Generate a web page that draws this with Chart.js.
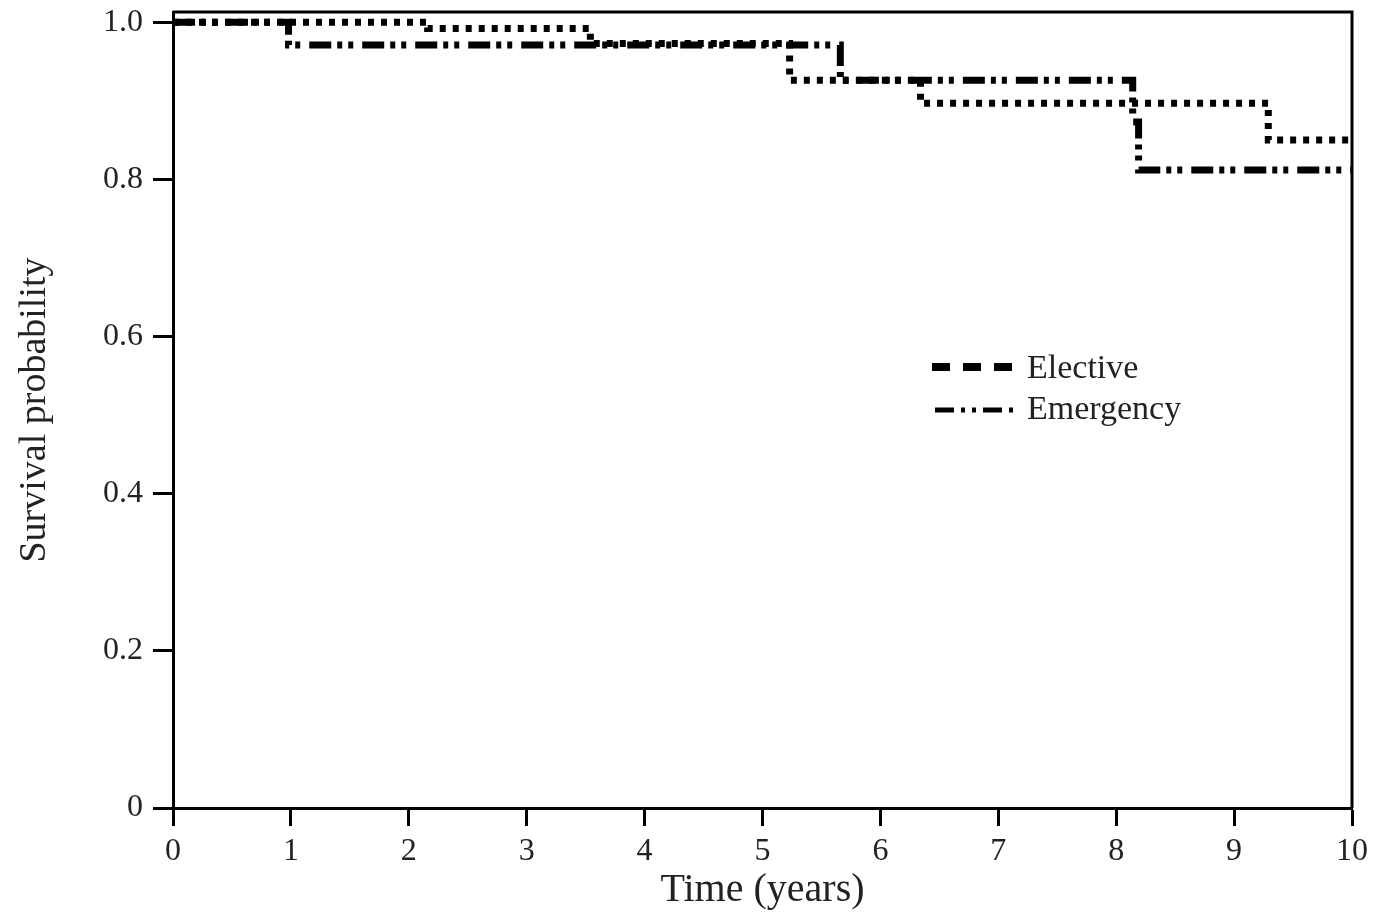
<!DOCTYPE html>
<html>
<head>
<meta charset="utf-8">
<script src="https://cdn.jsdelivr.net/npm/chart.js@4/dist/chart.umd.min.js"></script>
<style>
  html, body { margin: 0; padding: 0; background: #fff; }
  #wrap { width: 1375px; height: 914px; }
</style>
</head>
<body>
<div id="wrap"><canvas id="km"></canvas></div>
<script>
// 生存曲線のデータ
const electiveTime = [0, 2.16, 3.54, 5.23, 6.34, 9.29, 10];
const electiveSurv = [1.0, 0.992, 0.973, 0.926, 0.897, 0.850, 0.850];
const emergencyTime = [0, 0.98, 5.66, 8.14, 8.19, 10];
const emergencySurv = [1.0, 0.971, 0.926, 0.873, 0.812, 0.812];

// 軸の目盛り
const xTicks = [0, 1, 2, 3, 4, 5, 6, 7, 8, 9, 10];
const yTicks = [0, 0.2, 0.4, 0.6, 0.8, 1.0];

const serif = '"Liberation Serif", "Times New Roman", serif';

function toPoints(ts, ss) {
  return ts.map((t, i) => ({ x: t, y: ss[i] }));
}

// 枠線と凡例を描くプラグイン
const framePlugin = {
  id: 'frame',
  afterDatasetsDraw(chart) {
    const { ctx, chartArea: a } = chart;
    ctx.save();
    ctx.strokeStyle = '#000';
    ctx.lineWidth = 3;
    ctx.beginPath();
    ctx.moveTo(a.left, a.top);
    ctx.lineTo(a.right, a.top);
    ctx.lineTo(a.right, a.bottom);
    ctx.stroke();
    ctx.restore();
  },
  afterDraw(chart) {
    const ctx = chart.ctx;
    ctx.save();
    ctx.strokeStyle = '#000';
    ctx.lineCap = 'butt';
    // Elective
    ctx.lineWidth = 8;
    ctx.setLineDash([18, 13]);
    ctx.beginPath();
    ctx.moveTo(932, 367);
    ctx.lineTo(1012, 367);
    ctx.stroke();
    // Emergency
    ctx.lineWidth = 5;
    ctx.setLineDash([19, 7, 4, 7, 4, 7]);
    ctx.beginPath();
    ctx.moveTo(935, 410);
    ctx.lineTo(1015, 410);
    ctx.stroke();
    ctx.setLineDash([]);
    ctx.fillStyle = '#222';
    ctx.font = '34px ' + serif;
    ctx.textBaseline = 'middle';
    ctx.fillText('Elective', 1027, 369);
    ctx.fillText('Emergency', 1027, 410);
    ctx.restore();
  }
};

new Chart(document.getElementById('km'), {
  type: 'line',
  data: {
    datasets: [
      {
        label: 'Elective',
        data: toPoints(electiveTime, electiveSurv),
        stepped: 'before',
        borderColor: '#000',
        borderWidth: 7,
        borderDash: [6, 7],
        borderCapStyle: 'butt',
        pointRadius: 0,
        fill: false
      },
      {
        label: 'Emergency',
        data: toPoints(emergencyTime, emergencySurv),
        stepped: 'before',
        borderColor: '#000',
        borderWidth: 7,
        borderDash: [22, 6, 5, 6, 5, 9],
        borderCapStyle: 'butt',
        pointRadius: 0,
        fill: false
      }
    ]
  },
  options: {
    responsive: true,
    maintainAspectRatio: false,
    animation: false,
    layout: { padding: { top: 12, right: 23, left: 0, bottom: 0 } },
    plugins: {
      legend: { display: false },
      tooltip: { enabled: false }
    },
    scales: {
      x: {
        type: 'linear',
        min: 0,
        max: 10,
        afterFit(scale) {
          scale.height = 106;
          scale.paddingLeft = 0;
          scale.paddingRight = 0;
        },
        afterBuildTicks(scale) { scale.ticks = xTicks.map(v => ({ value: v })); },
        grid: {
          display: true,
          drawOnChartArea: false,
          drawTicks: true,
          tickLength: 18,
          tickWidth: 3,
          tickColor: '#000'
        },
        border: { display: true, width: 3, color: '#000' },
        ticks: {
          color: '#222',
          padding: 6,
          maxRotation: 0,
          font: { family: serif, size: 32 },
          callback: v => String(v)
        },
        title: {
          display: true,
          text: 'Time (years)',
          color: '#222',
          font: { family: serif, size: 40 },
          padding: { top: 0, bottom: 0 }
        }
      },
      y: {
        type: 'linear',
        min: 0,
        max: 1.013,
        afterFit(scale) {
          scale.width = 173;
          scale.paddingTop = 0;
          scale.paddingBottom = 0;
        },
        afterBuildTicks(scale) { scale.ticks = yTicks.map(v => ({ value: v })); },
        grid: {
          display: true,
          drawOnChartArea: false,
          drawTicks: true,
          tickLength: 20,
          tickWidth: 3,
          tickColor: '#000'
        },
        border: { display: true, width: 3, color: '#000' },
        ticks: {
          color: '#222',
          padding: 10,
          font: { family: serif, size: 32 },
          callback: v => (v === 0 ? '0' : v.toFixed(1))
        },
        title: {
          display: true,
          text: 'Survival probability',
          color: '#222',
          font: { family: serif, size: 38 },
          padding: { top: 12, bottom: 0 }
        }
      }
    }
  },
  plugins: [framePlugin]
});
</script>
</body>
</html>
